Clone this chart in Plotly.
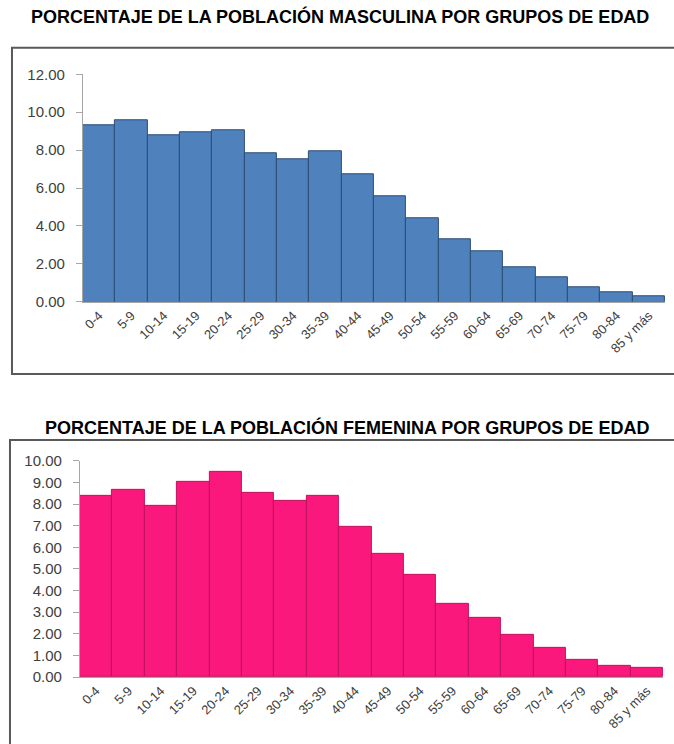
import plotly.graph_objects as go

W, H = 674, 744

grupos = ["0-4", "5-9", "10-14", "15-19", "20-24", "25-29", "30-34", "35-39",
          "40-44", "45-49", "50-54", "55-59", "60-64", "65-69", "70-74",
          "75-79", "80-84", "85 y más"]
masculina = [9.33, 9.60, 8.79, 8.93, 9.04, 7.81, 7.51, 7.96, 6.75, 5.58,
             4.40, 3.28, 2.67, 1.81, 1.32, 0.75, 0.51, 0.32]
femenina = [8.38, 8.66, 7.94, 9.01, 9.49, 8.52, 8.15, 8.40, 6.97, 5.69,
            4.71, 3.40, 2.75, 1.96, 1.34, 0.82, 0.51, 0.44]
titulo_m = "PORCENTAJE DE LA POBLACIÓN MASCULINA POR GRUPOS DE EDAD"
titulo_f = "PORCENTAJE DE LA POBLACIÓN FEMENINA POR GRUPOS DE EDAD"
ticks_m = [0, 2, 4, 6, 8, 10, 12]
ticks_f = [0, 1, 2, 3, 4, 5, 6, 7, 8, 9, 10]


def px(x):
    return x / W


def py(y):
    # small vertical correction observed between page and photographed picture
    yy = (y - 7.3) / 0.979
    return 1 - yy / H


fig = go.Figure()
fig.add_trace(go.Bar(x=grupos, y=masculina, xaxis="x", yaxis="y",
                     marker=dict(color="#4F81BD", line=dict(color="#2C4D75", width=1)),
                     hoverinfo="x+y"))
fig.add_trace(go.Bar(x=grupos, y=femenina, xaxis="x2", yaxis="y2",
                     marker=dict(color="#FA187D", line=dict(color="#C0105E", width=1)),
                     hoverinfo="x+y"))

xcommon = dict(type="category", tickangle=-45, showgrid=False, showline=True,
               linecolor="#A6A6A6", linewidth=1, ticks="",
               tickfont=dict(family="Liberation Sans, Arial", size=13, color="#404040"),
               fixedrange=True)
ycommon = dict(showgrid=False, showline=True, linecolor="#A6A6A6", linewidth=1,
               ticks="outside", ticklen=6, tickcolor="#A6A6A6", tickformat=".2f",
               ticklabelstandoff=8,
               tickfont=dict(family="Liberation Sans, Arial", size=15, color="#404040"),
               zeroline=False, fixedrange=True)

fig.update_layout(
    width=W, height=H,
    margin=dict(l=0, r=0, t=0, b=0),
    paper_bgcolor="white", plot_bgcolor="white",
    showlegend=False, bargap=0,
    xaxis=dict(xcommon, domain=[px(82), px(665)], anchor="y", range=[-0.5, 17.5]),
    yaxis=dict(ycommon, domain=[py(300.7), py(72.7)], anchor="x", range=[0, 12],
               tickvals=ticks_m),
    xaxis2=dict(xcommon, domain=[px(79), px(663)], anchor="y2", range=[-0.5, 17.5]),
    yaxis2=dict(ycommon, domain=[py(676.7), py(460)], anchor="x2", range=[0, 10],
                tickvals=ticks_f),
)

# Chart frames (right/bottom edges run off the picture)
fig.add_shape(type="rect", xref="paper", yref="paper",
              x0=px(11), x1=px(690), y0=py(373), y1=py(46),
              line=dict(color="#595959", width=2), fillcolor="rgba(0,0,0,0)", layer="below")
fig.add_shape(type="rect", xref="paper", yref="paper",
              x0=px(9), x1=px(690), y0=py(770), y1=py(439),
              line=dict(color="#595959", width=2), fillcolor="rgba(0,0,0,0)", layer="below")

tfont = dict(family="Liberation Sans, Arial", size=18, color="black")
fig.add_annotation(text="<b>" + titulo_m + "</b>", xref="paper", yref="paper",
                   x=px(340), y=py(15), xanchor="center", yanchor="middle",
                   showarrow=False, font=tfont)
fig.add_annotation(text="<b>" + titulo_f + "</b>", xref="paper", yref="paper",
                   x=px(347), y=py(427), xanchor="center", yanchor="middle",
                   showarrow=False, font=tfont)

fig.write_html(
    "out.html",
    config={"displayModeBar": False},
    post_script="document.documentElement.style.overflow='hidden';"
                "document.body.style.margin='0';document.body.style.overflow='hidden';",
)
